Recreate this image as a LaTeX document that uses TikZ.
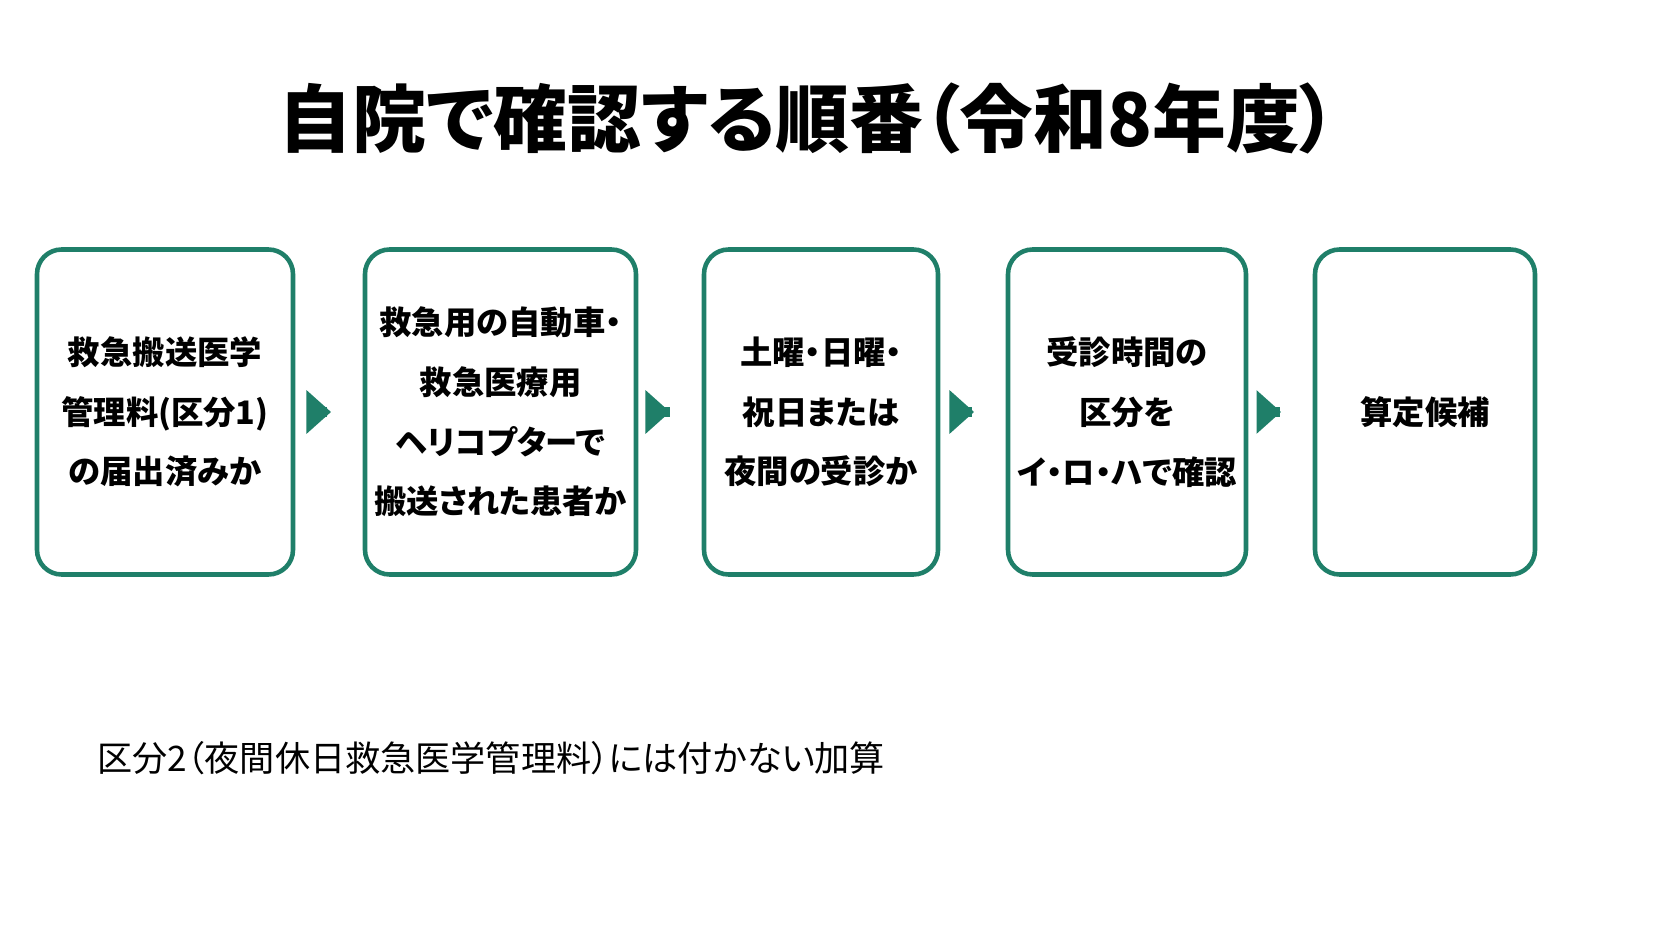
\documentclass[tikz,border=0pt]{standalone}
\usepackage{fontspec}
\setmainfont[RawFeature=+palt]{Noto Sans CJK JP}
\usetikzlibrary{positioning,arrows.meta}
\definecolor{teal1}{HTML}{1F7F69}
\tikzset{
  stepbox/.style={draw=teal1, line width=1.3pt, rounded corners=7pt, minimum height=3.25cm,
    inner sep=0pt, align=center, font=\fontsize{9.2}{17}\selectfont\bfseries},
  flow/.style={-{Triangle[length=7pt,width=12pt]}, teal1, line width=2.6pt,
    shorten <=9pt, shorten >=9pt}
}
\begin{document}
\begin{tikzpicture}
  % タイトル
  \node[font=\fontsize{21}{24}\selectfont\bfseries] (title) at (8.08,8.23) {自院で確認する順番（令和8年度）};
  % 手順の箱
  \node[stepbox, minimum width=2.56cm, text width=2.5cm] (s1) at (1.65,5.29) {救急搬送医学\\管理料(区分1)\\の届出済みか};
  \node[stepbox, minimum width=2.71cm, text width=2.65cm] (s2) at (5.005,5.29) {救急用の自動車・\\救急医療用\\ヘリコプターで\\搬送された患者か};
  \node[stepbox, minimum width=2.34cm, text width=2.3cm] (s3) at (8.21,5.29) {土曜・日曜・\\祝日または\\夜間の受診か};
  \node[stepbox, minimum width=2.38cm, text width=2.34cm] (s4) at (11.27,5.29) {受診時間の\\区分を\\イ・ロ・ハで確認};
  \node[stepbox, minimum width=2.20cm, text width=2.16cm] (s5) at (14.25,5.29) {算定候補};
  % 矢印
  \foreach \a/\b in {s1/s2, s2/s3, s3/s4, s4/s5}
    \draw[flow] (\a) -- (\b);
  % 注記
  \node[anchor=west, font=\fontsize{10}{12}\selectfont] (note) at (0.85,1.83) {区分2（夜間休日救急医学管理料）には付かない加算};
  \pgfresetboundingbox
  \useasboundingbox (0,0) rectangle (16.72,9.41);
\end{tikzpicture}
\end{document}
